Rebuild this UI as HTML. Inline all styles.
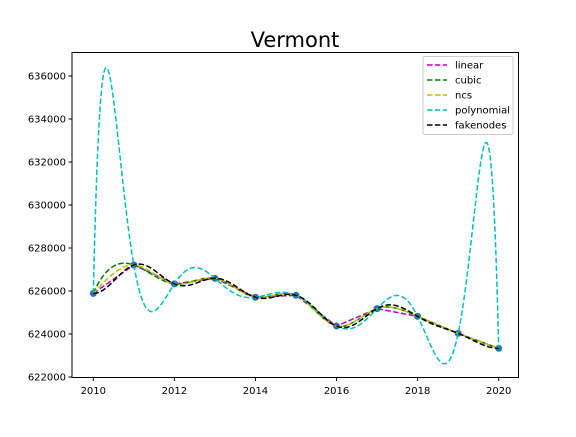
<!DOCTYPE html>
<html><head><meta charset="utf-8"><style>
body{margin:0;background:#fff;width:576px;height:432px;overflow:hidden}
svg text{font-family:"DejaVu Sans","Liberation Sans",sans-serif;fill:#000}
</style></head><body>
<svg id="chart" width="576" height="432" xmlns="http://www.w3.org/2000/svg">
<text x="295" y="47" font-size="21" text-anchor="middle">Vermont</text>
<g id="plot"></g>
<rect x="72" y="52.5" width="446.5" height="325" fill="none" stroke="#000" stroke-width="1"/>
<g>
<rect x="423" y="56.5" width="90" height="78" rx="2" fill="#fff" fill-opacity="0.8" stroke="#ccc"/>
<g id="legend"></g>
</g>
</svg>
<script>
const years=[2010,2011,2012,2013,2014,2015,2016,2017,2018,2019,2020];
const population=[625890,627210,626330,626590,625710,625800,624370,625180,624820,624030,623335];
const xTicks=[2010,2012,2014,2016,2018,2020];
const yTicks=[622000,624000,626000,628000,630000,632000,634000,636000];
const seriesNames=["linear","cubic","ncs","polynomial","fakenodes"];
const seriesColors=["#bf00bf","#008000","#bfbf00","#00bfbf","#000000"];

const X=v=>93.3+(v-2010)*40.54;
const Y=v=>377-(v-622000)*0.0215;
const NS="http://www.w3.org/2000/svg";
const plot=document.getElementById('plot');
function mk(tag,attrs,parent){const e=document.createElementNS(NS,tag);for(const k in attrs)e.setAttribute(k,attrs[k]);(parent||plot).appendChild(e);return e;}

xTicks.forEach(t=>{
 const l=mk('line',{x1:X(t),x2:X(t),y1:377.5,y2:381,stroke:'#000'});
 
 
 const tx=mk('text',{x:X(t),y:394,'font-size':10,'text-anchor':'middle'});
 tx.textContent=t;
 
 
});
yTicks.forEach(t=>{
 const l=mk('line',{x1:68.5,x2:72,y1:Y(t),y2:Y(t),stroke:'#000'});
 
 
 const tx=mk('text',{x:66,y:Y(t)+3.5,'font-size':10,'text-anchor':'end'});
 tx.textContent=t;
 
 
});

const n=years.length;
function solve(A,b){const m=b.length;A=A.map(r=>r.slice());b=b.slice();
 for(let i=0;i<m;i++){let p=i;for(let r=i+1;r<m;r++)if(Math.abs(A[r][i])>Math.abs(A[p][i]))p=r;
  [A[i],A[p]]=[A[p],A[i]];[b[i],b[p]]=[b[p],b[i]];
  for(let r=i+1;r<m;r++){const f=A[r][i]/A[i][i];for(let c=i;c<m;c++)A[r][c]-=f*A[i][c];b[r]-=f*b[i];}}
 const x=new Array(m).fill(0);for(let i=m-1;i>=0;i--){let s=b[i];for(let c=i+1;c<m;c++)s-=A[i][c]*x[c];x[i]=s/A[i][i];}return x;}
function spline(xs,ys,natural){
 const m=xs.length,h=[];for(let i=0;i<m-1;i++)h.push(xs[i+1]-xs[i]);
 const A=[],b=[];for(let i=0;i<m;i++){A.push(new Array(m).fill(0));b.push(0);}
 for(let i=1;i<m-1;i++){A[i][i-1]=h[i-1];A[i][i]=2*(h[i-1]+h[i]);A[i][i+1]=h[i];
  b[i]=6*((ys[i+1]-ys[i])/h[i]-(ys[i]-ys[i-1])/h[i-1]);}
 if(natural){A[0][0]=1;A[m-1][m-1]=1;}
 else{A[0][0]=h[1];A[0][1]=-(h[0]+h[1]);A[0][2]=h[0];
  A[m-1][m-3]=h[m-2];A[m-1][m-2]=-(h[m-3]+h[m-2]);A[m-1][m-1]=h[m-3];}
 const M=solve(A,b);
 return x=>{let i=0;while(i<m-2&&x>xs[i+1])i++;const hh=h[i],a=xs[i+1]-x,c=x-xs[i];
  return M[i]*a*a*a/(6*hh)+M[i+1]*c*c*c/(6*hh)+(ys[i]/hh-M[i]*hh/6)*a+(ys[i+1]/hh-M[i+1]*hh/6)*c;};
}
function lagrange(xs,ys){return x=>{let s=0;for(let i=0;i<xs.length;i++){let p=1;for(let j=0;j<xs.length;j++)if(j!==i)p*=(x-xs[j])/(xs[i]-xs[j]);s+=p*ys[i];}return s;};}
function linear(x){let i=0;while(i<n-2&&x>years[i+1])i++;const t=(x-years[i])/(years[i+1]-years[i]);return population[i]+t*(population[i+1]-population[i]);}
const a0=years[0],b0=years[n-1];
const S=x=>-Math.cos(Math.PI*(x-a0)/(b0-a0));
const lagS=lagrange(years.map(S),population);
const funcs=[linear,spline(years,population,false),spline(years,population,true),lagrange(years,population),x=>lagS(S(x))];

years.forEach((yr,i)=>{
 const c=mk('circle',{cx:X(yr),cy:Y(population[i]),r:3.5,fill:'#1f77b4'});
 
 
});
funcs.forEach((f,k)=>{
 let d='';for(let s=0;s<=800;s++){const x=2010+10*s/800;d+=(s?'L':'M')+X(x).toFixed(2)+','+Y(f(x)).toFixed(2);}
 const p=mk('path',{d:d,fill:'none',stroke:seriesColors[k],'stroke-width':1.5,'stroke-dasharray':'5.5,2.4'});
 
 
});
const lg=document.getElementById('legend');
seriesNames.forEach((nm,k)=>{
 const y=65+k*15;
 const l=mk('line',{x1:427,x2:447,y1:y,y2:y,stroke:seriesColors[k],'stroke-width':1.5,'stroke-dasharray':'5.5,2.4'},lg);
 
 
 const t=mk('text',{x:455,y:y+3.5,'font-size':10},lg);
 t.textContent=nm;
 
 
});
</script>
</body></html>
